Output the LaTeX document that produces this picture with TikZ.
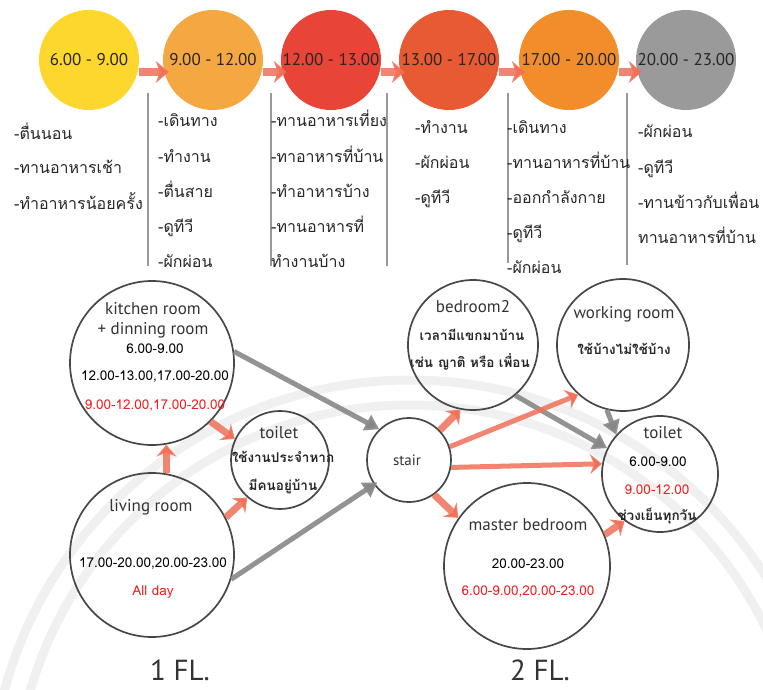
\documentclass[tikz,border=0pt]{standalone}
\usepackage{fontspec}
\setmainfont{PT Sans}
\newfontfamily\thai[Script=Thai]{Loma}
\usetikzlibrary{arrows.meta}
\definecolor{cya}{RGB}{253,214,46}
\definecolor{cor}{RGB}{245,167,66}
\definecolor{cre}{RGB}{232,68,55}
\definecolor{cro}{RGB}{232,90,51}
\definecolor{cog}{RGB}{241,142,43}
\definecolor{cgr}{RGB}{154,154,154}
\definecolor{salm}{RGB}{240,112,88}
\definecolor{garr}{RGB}{135,135,135}
\definecolor{rtxt}{RGB}{240,30,30}
\begin{document}
\begin{tikzpicture}[x=1pt,y=-1pt,
  tcirc/.style={circle,minimum size=100pt,inner sep=0pt,font=\fontsize{17}{19}\selectfont,text=black!85},
  room/.style={circle,draw=black!72,line width=1.7pt,inner sep=0pt},
  lst/.style={anchor=base west,inner sep=0pt,font=\thai\fontsize{16}{19}\selectfont,text=black!85},
  en/.style={inner sep=0pt,font=\fontsize{17}{19}\selectfont,text=black!80},
  num/.style={inner sep=0pt,font=\thai\fontsize{13.5}{15}\selectfont,text=black},
  rnum/.style={num,text=rtxt},
  thb/.style={inner sep=0pt,font=\thai\bfseries\fontsize{13.5}{15}\selectfont,text=black!85},
  vline/.style={draw=black!40,line width=2pt},
  tarr/.style={draw=salm,draw opacity=0.85,line width=8pt,-{Stealth[length=13pt,width=22pt,inset=4pt]}},
  sarr/.style={draw=salm,draw opacity=0.85,line width=7pt,-{Stealth[length=12pt,width=20pt,inset=4pt]}},
  garrow/.style={draw=garr,draw opacity=0.9,line width=5pt,-{Triangle[length=14pt,width=17pt]}},
  flr/.style={inner sep=0pt,font=\fontsize{29}{32}\selectfont,text=black!80},
  wm/.style={draw=black!6,line width=9pt}]
\useasboundingbox (0,0) rectangle (763,690);
% faint watermark arcs
\begin{scope}
\clip (0,0) rectangle (763,690);
\draw[wm] (410,800) circle[radius=395];
\draw[wm] (410,800) circle[radius=420];
\end{scope}
% timeline circles
\node[tcirc,fill=cya] (t1) at (89,60) {6.00 - 9.00};
\node[tcirc,fill=cor] (t2) at (213,60) {9.00 - 12.00};
\node[tcirc,fill=cre] (t3) at (331,60) {12.00 - 13.00};
\node[tcirc,fill=cro] (t4) at (449,60) {13.00 - 17.00};
\node[tcirc,fill=cog] (t5) at (569,60) {17.00 - 20.00};
\node[tcirc,fill=cgr] (t6) at (686,60) {20.00 - 23.00};
\foreach \a/\b in {t1/t2,t2/t3,t3/t4,t4/t5,t5/t6}
  \draw[tarr,shorten >=-6pt] ([yshift=-12pt]\a.east) -- ([yshift=-12pt]\b.west);
% separators
\foreach \x/\ye in {148/266,271/266,387/266,508/263,627/265}
  \draw[vline] (\x,93) -- (\x,\ye);
% lists
\foreach \t/\y [count=\i] in {-ตื่นนอน/135,-ทานอาหารเช้า/169,-ทำอาหารน้อยครั้ง/204}
  \node[lst] (ca\i) at (14,\y+5) {\t};
\foreach \t/\y [count=\i] in {-เดินทาง/122,-ทำงาน/157,-ตื่นสาย/192,-ดูทีวี/227,-ผักผ่อน/262}
  \node[lst] (cb\i) at (158,\y+5) {\t};
\foreach \t/\y [count=\i] in {-ทานอาหารเที่ยง/122,-ทาอาหารที่บ้าน/157,-ทำอาหารบ้าง/192,-ทานอาหารที่/227,ทำงานบ้าง/262}
  \node[lst] (cc\i) at (271,\y+5) {\t};
\foreach \t/\y [count=\i] in {-ทำงาน/129,-ผักผ่อน/163,-ดูทีวี/198}
  \node[lst] (cd\i) at (415,\y+5) {\t};
\foreach \t/\y [count=\i] in {-เดินทาง/129,-ทานอาหารที่บ้าน/163,-ออกกำลังกาย/198,-ดูทีวี/233,-ผักผ่อน/268}
  \node[lst] (ce\i) at (507,\y+5) {\t};
\foreach \t/\y [count=\i] in {-ผักผ่อน/133,-ดูทีวี/168,-ทานข้าวกับเพื่อน/203,ทานอาหารที่บ้าน/238}
  \node[lst] (cf\i) at (638,\y+5) {\t};
% rooms
\node[room,minimum size=164pt] (kit) at (152,363) {};
\node[room,minimum size=98pt] (wc1) at (280,460) {};
\node[room,minimum size=164pt] (liv) at (152,555) {};
\node[room,minimum size=84pt] (str) at (409,460) {};
\node[room,minimum size=130pt] (bd2) at (473,345) {};
\node[room,minimum size=132pt] (wrk) at (623,345) {};
\node[room,minimum size=116pt] (wc2) at (660,474) {};
\node[room,minimum size=166pt] (mbd) at (527,566) {};
% room texts
\node[en] (kitA) at (153,309) {kitchen room};
\node[en] (kitB) at (153,330) {+ dinning room};
\node[num] (kitC) at (155,349) {6.00-9.00};
\node[num] (kitD) at (155,377) {12.00-13.00,17.00-20.00};
\node[rnum] (kitE) at (155,406) {9.00-12.00,17.00-20.00};
\node[en] (wc1A) at (279,433) {toilet};
\node[thb] (wc1B) at (283,457) {ใช้งานประจำหาก};
\node[thb] (wc1C) at (283,486) {มีคนอยู่บ้าน};
\node[en] (livA) at (151,507) {living room};
\node[num] (livB) at (153,564) {17.00-20.00,20.00-23.00};
\node[rnum] (livC) at (153,592) {All day};
\node[en,font=\fontsize{15}{17}\selectfont] (strA) at (407,460) {stair};
\node[en] (bd2A) at (473,307) {bedroom2};
\node[thb] (bd2B) at (472,335) {เวลามีแขกมาบ้าน};
\node[thb] (bd2C) at (470,362) {เช่น ญาติ หรือ เพื่อน};
\node[en] (wrkA) at (624,314) {working room};
\node[thb] (wrkB) at (624,349) {ใช้บ้างไม่ใช้บ้าง};
\node[en] (wc2A) at (663,433) {toilet};
\node[num] (wc2B) at (658,462) {6.00-9.00};
\node[rnum] (wc2C) at (657,490) {9.00-12.00};
\node[thb] (wc2D) at (657,516) {ช่วงเย็นทุกวัน};
\node[en] (mbdA) at (528,525) {master bedroom};
\node[num] (mbdB) at (528,564) {20.00-23.00};
\node[rnum] (mbdC) at (528,592) {6.00-9.00,20.00-23.00};
\node[flr] (fl1) at (180,670) {1 FL.};
\node[flr] (fl2) at (540,670) {2 FL.};
% gray arrows
\draw[garrow] (kit.8) -- (str.134);
\draw[garrow,shorten >=-4pt] (liv.-17) -- (str.-145);
\draw[garrow] (bd2.-50) -- (wc2.154);
\draw[garrow] (wrk.-104) -- (wc2.138);
% salmon arrows
\draw[sarr] (kit.-45) -- (wc1.155);
\draw[sarr] (liv.80) -- (kit.-80);
\draw[sarr] (liv.27) -- (wc1.-131);
\draw[sarr] (str.44) -- (bd2.-101);
\draw[sarr,line width=5pt] (str.18) -- (wrk.-132);
\draw[sarr,line width=5pt] (str.-10) -- (wc2.170);
\draw[sarr] (str.-54) -- (mbd.145);
\draw[sarr] (mbd.22) -- (wc2.-127);
\end{tikzpicture}
\end{document}
